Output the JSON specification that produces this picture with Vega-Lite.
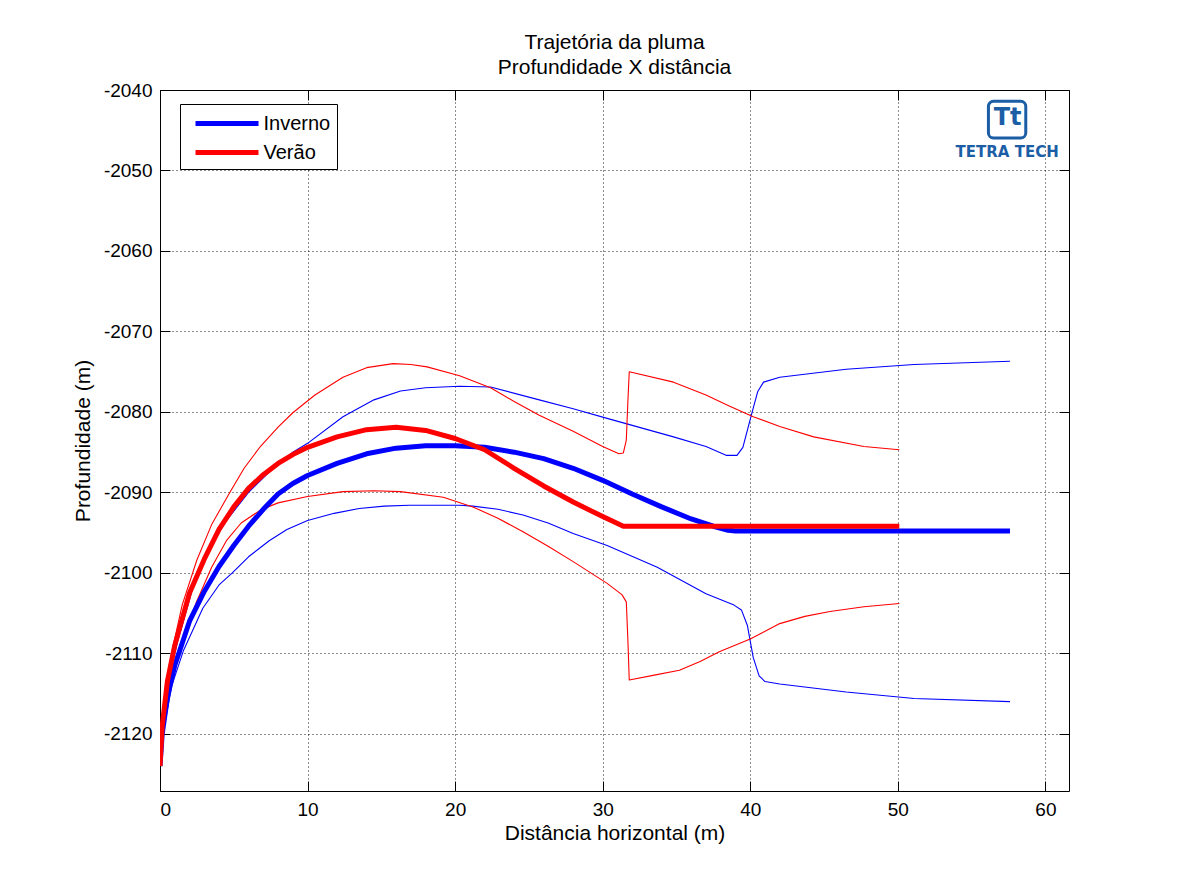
{
  "$schema": "https://vega.github.io/schema/vega-lite/v6.json",
  "width": 909,
  "height": 701,
  "autosize": {"type": "none"},
  "padding": {"left": 160, "top": 90, "right": 110, "bottom": 93},
  "background": "white",
  "config": {
    "font": "Liberation Sans",
    "view": {"stroke": "black", "strokeWidth": 1},
    "axis": {"labelFont": "Liberation Sans", "titleFont": "Liberation Sans", "labelColor": "black", "titleColor": "black", "titleFontWeight": "normal"}
  },
  "title": {
    "text": ["Trajetória da pluma", "Profundidade X distância"],
    "fontSize": 21,
    "fontWeight": "normal",
    "font": "Liberation Sans",
    "color": "black",
    "anchor": "middle",
    "lineHeight": 25,
    "offset": 3
  },
  "datasets": {
    "plume": [
      {"s": "Inverno", "k": "c", "x": 0, "y": -2124},
      {"s": "Inverno", "k": "c", "x": 0.15, "y": -2120},
      {"s": "Inverno", "k": "c", "x": 0.5, "y": -2115.5},
      {"s": "Inverno", "k": "c", "x": 1.0, "y": -2111.5},
      {"s": "Inverno", "k": "c", "x": 2.0, "y": -2106},
      {"s": "Inverno", "k": "c", "x": 3.0, "y": -2102.3},
      {"s": "Inverno", "k": "c", "x": 4.0, "y": -2099.2},
      {"s": "Inverno", "k": "c", "x": 5.0, "y": -2096.6},
      {"s": "Inverno", "k": "c", "x": 6.0, "y": -2094.2},
      {"s": "Inverno", "k": "c", "x": 7.0, "y": -2092.1},
      {"s": "Inverno", "k": "c", "x": 8.0, "y": -2090.2},
      {"s": "Inverno", "k": "c", "x": 9.0, "y": -2088.9},
      {"s": "Inverno", "k": "c", "x": 10.0, "y": -2087.9},
      {"s": "Inverno", "k": "c", "x": 12.0, "y": -2086.4},
      {"s": "Inverno", "k": "c", "x": 14.0, "y": -2085.2},
      {"s": "Inverno", "k": "c", "x": 16.0, "y": -2084.5},
      {"s": "Inverno", "k": "c", "x": 18.0, "y": -2084.2},
      {"s": "Inverno", "k": "c", "x": 20.0, "y": -2084.2},
      {"s": "Inverno", "k": "c", "x": 22.0, "y": -2084.4},
      {"s": "Inverno", "k": "c", "x": 24.0, "y": -2085.0},
      {"s": "Inverno", "k": "c", "x": 26.0, "y": -2085.8},
      {"s": "Inverno", "k": "c", "x": 28.0, "y": -2087.0},
      {"s": "Inverno", "k": "c", "x": 30.0, "y": -2088.5},
      {"s": "Inverno", "k": "c", "x": 32.0, "y": -2090.2},
      {"s": "Inverno", "k": "c", "x": 34.0, "y": -2091.8},
      {"s": "Inverno", "k": "c", "x": 36.0, "y": -2093.3},
      {"s": "Inverno", "k": "c", "x": 37.5, "y": -2094.2},
      {"s": "Inverno", "k": "c", "x": 38.5, "y": -2094.7},
      {"s": "Inverno", "k": "c", "x": 39.0, "y": -2094.8},
      {"s": "Inverno", "k": "c", "x": 57.6, "y": -2094.8},

      {"s": "Inverno", "k": "u", "x": 0, "y": -2124},
      {"s": "Inverno", "k": "u", "x": 0.2, "y": -2118},
      {"s": "Inverno", "k": "u", "x": 0.6, "y": -2113},
      {"s": "Inverno", "k": "u", "x": 1.2, "y": -2108.5},
      {"s": "Inverno", "k": "u", "x": 2.2, "y": -2102},
      {"s": "Inverno", "k": "u", "x": 3.2, "y": -2097.5},
      {"s": "Inverno", "k": "u", "x": 4.5, "y": -2093.5},
      {"s": "Inverno", "k": "u", "x": 6.0, "y": -2090},
      {"s": "Inverno", "k": "u", "x": 7.5, "y": -2087.3},
      {"s": "Inverno", "k": "u", "x": 9.0, "y": -2085.0},
      {"s": "Inverno", "k": "u", "x": 10.0, "y": -2083.9},
      {"s": "Inverno", "k": "u", "x": 12.4, "y": -2080.6},
      {"s": "Inverno", "k": "u", "x": 14.5, "y": -2078.5},
      {"s": "Inverno", "k": "u", "x": 16.3, "y": -2077.4},
      {"s": "Inverno", "k": "u", "x": 18.0, "y": -2077.0},
      {"s": "Inverno", "k": "u", "x": 20.3, "y": -2076.8},
      {"s": "Inverno", "k": "u", "x": 22.4, "y": -2076.9},
      {"s": "Inverno", "k": "u", "x": 25.7, "y": -2078.5},
      {"s": "Inverno", "k": "u", "x": 28.0, "y": -2079.6},
      {"s": "Inverno", "k": "u", "x": 30.3, "y": -2080.8},
      {"s": "Inverno", "k": "u", "x": 34.8, "y": -2083.1},
      {"s": "Inverno", "k": "u", "x": 37.0, "y": -2084.3},
      {"s": "Inverno", "k": "u", "x": 38.4, "y": -2085.4},
      {"s": "Inverno", "k": "u", "x": 39.1, "y": -2085.4},
      {"s": "Inverno", "k": "u", "x": 39.5, "y": -2084.4},
      {"s": "Inverno", "k": "u", "x": 40.1, "y": -2080.2},
      {"s": "Inverno", "k": "u", "x": 40.5, "y": -2077.5},
      {"s": "Inverno", "k": "u", "x": 40.9, "y": -2076.3},
      {"s": "Inverno", "k": "u", "x": 42.0, "y": -2075.7},
      {"s": "Inverno", "k": "u", "x": 46.5, "y": -2074.7},
      {"s": "Inverno", "k": "u", "x": 51.1, "y": -2074.1},
      {"s": "Inverno", "k": "u", "x": 57.6, "y": -2073.7},

      {"s": "Inverno", "k": "l", "x": 0, "y": -2124},
      {"s": "Inverno", "k": "l", "x": 0.3, "y": -2119},
      {"s": "Inverno", "k": "l", "x": 0.8, "y": -2114},
      {"s": "Inverno", "k": "l", "x": 1.6, "y": -2109.6},
      {"s": "Inverno", "k": "l", "x": 2.9, "y": -2104.4},
      {"s": "Inverno", "k": "l", "x": 4.0, "y": -2101.5},
      {"s": "Inverno", "k": "l", "x": 4.9, "y": -2100.0},
      {"s": "Inverno", "k": "l", "x": 6.0, "y": -2098.0},
      {"s": "Inverno", "k": "l", "x": 7.4, "y": -2096.0},
      {"s": "Inverno", "k": "l", "x": 8.6, "y": -2094.6},
      {"s": "Inverno", "k": "l", "x": 10.0, "y": -2093.5},
      {"s": "Inverno", "k": "l", "x": 11.8, "y": -2092.6},
      {"s": "Inverno", "k": "l", "x": 13.5, "y": -2092.0},
      {"s": "Inverno", "k": "l", "x": 15.2, "y": -2091.7},
      {"s": "Inverno", "k": "l", "x": 16.9, "y": -2091.6},
      {"s": "Inverno", "k": "l", "x": 20.3, "y": -2091.6},
      {"s": "Inverno", "k": "l", "x": 21.2, "y": -2091.7},
      {"s": "Inverno", "k": "l", "x": 22.9, "y": -2092.1},
      {"s": "Inverno", "k": "l", "x": 24.6, "y": -2092.8},
      {"s": "Inverno", "k": "l", "x": 26.3, "y": -2093.8},
      {"s": "Inverno", "k": "l", "x": 28.0, "y": -2095.1},
      {"s": "Inverno", "k": "l", "x": 30.3, "y": -2096.6},
      {"s": "Inverno", "k": "l", "x": 33.7, "y": -2099.3},
      {"s": "Inverno", "k": "l", "x": 37.0, "y": -2102.6},
      {"s": "Inverno", "k": "l", "x": 38.9, "y": -2104.0},
      {"s": "Inverno", "k": "l", "x": 39.4, "y": -2104.6},
      {"s": "Inverno", "k": "l", "x": 39.8, "y": -2106.5},
      {"s": "Inverno", "k": "l", "x": 40.2, "y": -2110.5},
      {"s": "Inverno", "k": "l", "x": 40.6, "y": -2112.8},
      {"s": "Inverno", "k": "l", "x": 41.0, "y": -2113.5},
      {"s": "Inverno", "k": "l", "x": 42.0, "y": -2113.8},
      {"s": "Inverno", "k": "l", "x": 46.5, "y": -2114.8},
      {"s": "Inverno", "k": "l", "x": 51.1, "y": -2115.6},
      {"s": "Inverno", "k": "l", "x": 57.6, "y": -2116.0},

      {"s": "Verão", "k": "c", "x": 0, "y": -2124},
      {"s": "Verão", "k": "c", "x": 0.15, "y": -2119},
      {"s": "Verão", "k": "c", "x": 0.5, "y": -2113.5},
      {"s": "Verão", "k": "c", "x": 1.0, "y": -2109},
      {"s": "Verão", "k": "c", "x": 2.0, "y": -2102.5},
      {"s": "Verão", "k": "c", "x": 3.0, "y": -2098.3},
      {"s": "Verão", "k": "c", "x": 4.0, "y": -2094.6},
      {"s": "Verão", "k": "c", "x": 5.0, "y": -2091.8},
      {"s": "Verão", "k": "c", "x": 6.0, "y": -2089.5},
      {"s": "Verão", "k": "c", "x": 7.0, "y": -2087.8},
      {"s": "Verão", "k": "c", "x": 8.0, "y": -2086.4},
      {"s": "Verão", "k": "c", "x": 9.0, "y": -2085.3},
      {"s": "Verão", "k": "c", "x": 10.0, "y": -2084.4},
      {"s": "Verão", "k": "c", "x": 12.0, "y": -2083.1},
      {"s": "Verão", "k": "c", "x": 14.0, "y": -2082.2},
      {"s": "Verão", "k": "c", "x": 16.0, "y": -2081.9},
      {"s": "Verão", "k": "c", "x": 18.0, "y": -2082.3},
      {"s": "Verão", "k": "c", "x": 20.0, "y": -2083.3},
      {"s": "Verão", "k": "c", "x": 22.0, "y": -2084.7},
      {"s": "Verão", "k": "c", "x": 24.0, "y": -2087.0},
      {"s": "Verão", "k": "c", "x": 26.0, "y": -2089.2},
      {"s": "Verão", "k": "c", "x": 28.0, "y": -2091.2},
      {"s": "Verão", "k": "c", "x": 30.0, "y": -2093.0},
      {"s": "Verão", "k": "c", "x": 31.4, "y": -2094.2},
      {"s": "Verão", "k": "c", "x": 50.1, "y": -2094.2},

      {"s": "Verão", "k": "u", "x": 0, "y": -2124},
      {"s": "Verão", "k": "u", "x": 0.1, "y": -2119},
      {"s": "Verão", "k": "u", "x": 0.4, "y": -2113.5},
      {"s": "Verão", "k": "u", "x": 0.9, "y": -2109},
      {"s": "Verão", "k": "u", "x": 1.5, "y": -2104},
      {"s": "Verão", "k": "u", "x": 2.5, "y": -2098.4},
      {"s": "Verão", "k": "u", "x": 3.5, "y": -2094},
      {"s": "Verão", "k": "u", "x": 4.7, "y": -2090.1},
      {"s": "Verão", "k": "u", "x": 5.7, "y": -2087},
      {"s": "Verão", "k": "u", "x": 6.8, "y": -2084.3},
      {"s": "Verão", "k": "u", "x": 8.0, "y": -2081.9},
      {"s": "Verão", "k": "u", "x": 9.0, "y": -2080.1},
      {"s": "Verão", "k": "u", "x": 10.5, "y": -2077.9},
      {"s": "Verão", "k": "u", "x": 12.4, "y": -2075.7},
      {"s": "Verão", "k": "u", "x": 14.0, "y": -2074.5},
      {"s": "Verão", "k": "u", "x": 15.8, "y": -2074.0},
      {"s": "Verão", "k": "u", "x": 17.0, "y": -2074.1},
      {"s": "Verão", "k": "u", "x": 18.1, "y": -2074.4},
      {"s": "Verão", "k": "u", "x": 20.3, "y": -2075.5},
      {"s": "Verão", "k": "u", "x": 22.4, "y": -2077.0},
      {"s": "Verão", "k": "u", "x": 24.0, "y": -2078.7},
      {"s": "Verão", "k": "u", "x": 25.7, "y": -2080.4},
      {"s": "Verão", "k": "u", "x": 28.0, "y": -2082.4},
      {"s": "Verão", "k": "u", "x": 30.0, "y": -2084.3},
      {"s": "Verão", "k": "u", "x": 31.1, "y": -2085.2},
      {"s": "Verão", "k": "u", "x": 31.4, "y": -2085.1},
      {"s": "Verão", "k": "u", "x": 31.6, "y": -2083.5},
      {"s": "Verão", "k": "u", "x": 31.7, "y": -2079},
      {"s": "Verão", "k": "u", "x": 31.8, "y": -2075.0},
      {"s": "Verão", "k": "u", "x": 34.8, "y": -2076.3},
      {"s": "Verão", "k": "u", "x": 37.0, "y": -2077.9},
      {"s": "Verão", "k": "u", "x": 38.5, "y": -2079.2},
      {"s": "Verão", "k": "u", "x": 40.2, "y": -2080.6},
      {"s": "Verão", "k": "u", "x": 42.0, "y": -2081.8},
      {"s": "Verão", "k": "u", "x": 44.3, "y": -2083.1},
      {"s": "Verão", "k": "u", "x": 47.7, "y": -2084.3},
      {"s": "Verão", "k": "u", "x": 50.1, "y": -2084.7},

      {"s": "Verão", "k": "l", "x": 0, "y": -2124},
      {"s": "Verão", "k": "l", "x": 0.3, "y": -2118.5},
      {"s": "Verão", "k": "l", "x": 0.8, "y": -2113.5},
      {"s": "Verão", "k": "l", "x": 1.5, "y": -2108.5},
      {"s": "Verão", "k": "l", "x": 2.5, "y": -2103.5},
      {"s": "Verão", "k": "l", "x": 3.5, "y": -2099.3},
      {"s": "Verão", "k": "l", "x": 4.5, "y": -2096},
      {"s": "Verão", "k": "l", "x": 5.5, "y": -2093.8},
      {"s": "Verão", "k": "l", "x": 6.8, "y": -2092.2},
      {"s": "Verão", "k": "l", "x": 8.0, "y": -2091.3},
      {"s": "Verão", "k": "l", "x": 10.0, "y": -2090.5},
      {"s": "Verão", "k": "l", "x": 12.4, "y": -2089.9},
      {"s": "Verão", "k": "l", "x": 14.5, "y": -2089.8},
      {"s": "Verão", "k": "l", "x": 16.3, "y": -2089.9},
      {"s": "Verão", "k": "l", "x": 19.2, "y": -2090.6},
      {"s": "Verão", "k": "l", "x": 21.2, "y": -2091.8},
      {"s": "Verão", "k": "l", "x": 22.9, "y": -2093.2},
      {"s": "Verão", "k": "l", "x": 24.6, "y": -2094.9},
      {"s": "Verão", "k": "l", "x": 26.3, "y": -2096.7},
      {"s": "Verão", "k": "l", "x": 28.0, "y": -2098.6},
      {"s": "Verão", "k": "l", "x": 30.3, "y": -2101.3},
      {"s": "Verão", "k": "l", "x": 31.3, "y": -2102.7},
      {"s": "Verão", "k": "l", "x": 31.6, "y": -2103.6},
      {"s": "Verão", "k": "l", "x": 31.7, "y": -2108},
      {"s": "Verão", "k": "l", "x": 31.8, "y": -2113.3},
      {"s": "Verão", "k": "l", "x": 33.5, "y": -2112.7},
      {"s": "Verão", "k": "l", "x": 35.2, "y": -2112.1},
      {"s": "Verão", "k": "l", "x": 36.6, "y": -2111.0},
      {"s": "Verão", "k": "l", "x": 37.9, "y": -2109.8},
      {"s": "Verão", "k": "l", "x": 40.0, "y": -2108.2},
      {"s": "Verão", "k": "l", "x": 42.0, "y": -2106.3},
      {"s": "Verão", "k": "l", "x": 43.7, "y": -2105.4},
      {"s": "Verão", "k": "l", "x": 45.4, "y": -2104.8},
      {"s": "Verão", "k": "l", "x": 47.7, "y": -2104.2},
      {"s": "Verão", "k": "l", "x": 50.1, "y": -2103.8}
    ],
    "logo": [
      {"x1": 56.14, "x2": 58.67, "y1": -2041.4, "y2": -2045.95, "tx": 57.44, "ty": -2043.45, "label": "Tt", "nx": 57.41, "ny": -2047.74, "name": "TETRA TECH"}
    ]
  },
  "resolve": {"axis": {"x": "independent", "y": "independent"}},
  "layer": [
    {
      "data": {"name": "plume"},
      "transform": [{"filter": "datum.k != 'c'"}],
      "mark": {"type": "line", "clip": true, "strokeWidth": 1.1, "strokeJoin": "round"},
      "encoding": {
        "x": {
          "field": "x", "type": "quantitative",
          "scale": {"domain": [0, 61.6], "nice": false, "zero": false},
          "axis": {
            "orient": "bottom", "title": "Distância horizontal (m)", "values": [0, 10, 20, 30, 40, 50, 60],
            "format": "d", "labelFontSize": 19, "titleFontSize": 21, "labelPadding": 19, "titlePadding": 3,
            "tickSize": -10, "tickColor": "black", "domain": false,
            "grid": true, "gridColor": "black", "gridDash": [1, 3], "gridOpacity": 0.9, "gridWidth": 1
          }
        },
        "y": {
          "field": "y", "type": "quantitative",
          "scale": {"domain": [-2127.1, -2040], "nice": false, "zero": false},
          "axis": {
            "orient": "left", "title": "Profundidade (m)", "values": [-2120, -2110, -2100, -2090, -2080, -2070, -2060, -2050, -2040],
            "format": "d", "labelExpr": "replace(datum.label, '−', '-')", "labelFontSize": 19, "titleFontSize": 21, "labelPadding": 18, "titlePadding": 10,
            "tickSize": -10, "tickColor": "black", "domain": false,
            "grid": true, "gridColor": "black", "gridDash": [1, 3], "gridOpacity": 0.9, "gridWidth": 1
          }
        },
        "color": {
          "field": "s", "type": "nominal",
          "scale": {"domain": ["Inverno", "Verão"], "range": ["#0000ff", "#ff0000"]},
          "legend": {
            "orient": "none", "legendX": 20, "legendY": 14, "title": null,
            "symbolType": "M-3,0H3", "symbolSize": 441, "symbolStrokeWidth": 5, "symbolOffset": 27.5,
            "labelOffset": 23.5, "labelFontSize": 20, "labelFont": "Liberation Sans", "labelColor": "black",
            "padding": 6.5, "rowPadding": 6, "strokeColor": "black", "fillColor": "white"
          }
        },
        "detail": {"field": "k"}
      }
    },
    {
      "data": {"name": "plume"},
      "transform": [{"filter": "datum.k == 'c'"}],
      "mark": {"type": "line", "clip": true, "strokeWidth": 5, "strokeJoin": "round"},
      "encoding": {
        "x": {"field": "x", "type": "quantitative", "scale": {"domain": [0, 61.6], "nice": false, "zero": false}, "axis": null},
        "y": {"field": "y", "type": "quantitative", "scale": {"domain": [-2127.1, -2040], "nice": false, "zero": false}, "axis": null},
        "color": {"field": "s", "type": "nominal"}
      }
    },
    {
      "data": {"name": "logo"},
      "mark": {"type": "rect", "fill": "white", "stroke": "#1b5ea6", "strokeWidth": 3, "cornerRadius": 5},
      "encoding": {
        "x": {
          "field": "x1", "type": "quantitative",
          "scale": {"domain": [0, 61.6], "nice": false, "zero": false},
          "axis": {"orient": "top", "title": null, "values": [0, 10, 20, 30, 40, 50, 60], "labels": false, "grid": false, "domain": false, "tickSize": -10, "tickColor": "black"}
        },
        "x2": {"field": "x2"},
        "y": {
          "field": "y1", "type": "quantitative",
          "scale": {"domain": [-2127.1, -2040], "nice": false, "zero": false},
          "axis": {"orient": "right", "title": null, "values": [-2120, -2110, -2100, -2090, -2080, -2070, -2060, -2050, -2040], "labels": false, "grid": false, "domain": false, "tickSize": -10, "tickColor": "black"}
        },
        "y2": {"field": "y2"}
      }
    },
    {
      "data": {"name": "logo"},
      "mark": {"type": "text", "font": "DejaVu Sans", "fontWeight": "bold", "fontSize": 24, "color": "#1b5ea6", "baseline": "middle", "align": "center"},
      "encoding": {
        "x": {"field": "tx", "type": "quantitative", "axis": null},
        "y": {"field": "ty", "type": "quantitative", "axis": null},
        "text": {"field": "label"}
      }
    },
    {
      "data": {"name": "logo"},
      "mark": {"type": "text", "font": "DejaVu Sans", "fontWeight": "bold", "fontSize": 15, "color": "#1b5ea6", "baseline": "middle", "align": "center"},
      "encoding": {
        "x": {"field": "nx", "type": "quantitative", "axis": null},
        "y": {"field": "ny", "type": "quantitative", "axis": null},
        "text": {"field": "name"}
      }
    }
  ]
}
